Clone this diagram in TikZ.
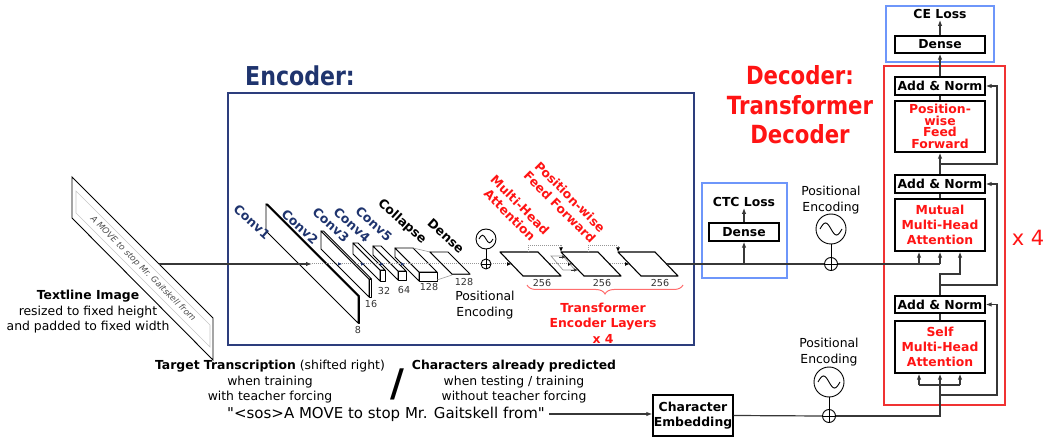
\documentclass[tikz,border=0pt]{standalone}
\usepackage{fontspec}
\setmainfont{DejaVu Sans}
\newfontfamily\titlefont[FakeStretch=0.85]{DejaVu Sans}
\newfontfamily\strfont[Ligatures=TeXOff]{DejaVu Sans}
\usetikzlibrary{arrows.meta,decorations.pathreplacing,calc}
\definecolor{navy}{RGB}{31,52,110}
\definecolor{encbox}{RGB}{45,62,125}
\definecolor{myred}{RGB}{255,20,20}
\definecolor{boxred}{RGB}{240,50,50}
\definecolor{lossblue}{RGB}{110,150,250}
\definecolor{linegray}{RGB}{55,55,55}
\definecolor{dotgray}{RGB}{150,150,150}
\definecolor{bracered}{RGB}{255,110,110}
\tikzset{
  blk/.style={draw=black, line width=1.3pt, fill=white, inner sep=0pt,
    font=\fontsize{12.4}{14}\selectfont\bfseries, minimum width=90pt},
  redtxt/.style={text=myred, font=\fontsize{12.4}{14.5}\selectfont\bfseries, align=center, inner sep=0pt},
  conn/.style={draw=linegray, line width=1.2pt},
  arr/.style={conn, -{Latex[length=6pt,width=4.5pt]}},
  dotl/.style={draw=dotgray, densely dotted, line width=1pt},
  dotarr/.style={dotl, -{Latex[length=4.5pt,width=4pt,color=black]}},
  lbl/.style={font=\fontsize{12.4}{15.5}\selectfont, align=center, inner sep=0pt},
  num/.style={font=\fontsize{9.6}{10}\selectfont, text=black!80, inner sep=0pt},
  convl/.style={font=\fontsize{12.6}{14}\selectfont\bfseries, text=navy, rotate=-42, inner sep=0pt},
  slabface/.style={draw=black, line width=0.9pt, fill=white, line join=round},
  wavec/.style={circle, draw=black, line width=0.9pt, minimum size=30pt, inner sep=0pt},
  plusc/.style={circle, draw=black, line width=0.9pt, minimum size=13pt, inner sep=0pt},
  boldtxt/.style={font=\fontsize{12.4}{14}\selectfont\bfseries, inner sep=1pt},
}
\newcommand\mySlab[5]{%
  \filldraw[slabface] (#1,#2) -- ++(#3,#3) -- ++(0,#4) -- ++(-#3,-#3) -- cycle;
  \filldraw[slabface] (#1,#2) -- ++(#5,0) -- ++(#3,#3) -- ++(-#5,0) -- cycle;
  \filldraw[slabface] (#1+#3,#2+#3) -- ++(#5,0) -- ++(0,#4) -- ++(-#5,0) -- cycle;}
\newcommand\myWave[2]{%
  \draw[line width=0.9pt] ($(#1.center)+(-#2,0)$) sin ++(#2/2,-#2*0.55) cos ++(#2/2,#2*0.55) sin ++(#2/2,#2*0.55) cos ++(#2/2,-#2*0.55);}
\newcommand\myPlus[1]{\draw[line width=0.9pt] (#1.north) -- (#1.south) (#1.east) -- (#1.west);}
\begin{document}
\begin{tikzpicture}[x=1pt,y=-1pt,font=\fontsize{12.4}{14}\selectfont]
\useasboundingbox (0,0) rectangle (1047,438);

% ---------- frames ----------
\node[draw=encbox, line width=1.3pt, minimum width=466pt, minimum height=252pt, inner sep=0pt] (encbox) at (461,219) {};
\node[draw=lossblue, line width=1.4pt, minimum width=85pt, minimum height=95pt, inner sep=0pt] (ctcbox) at (744.5,230.5) {};
\node[draw=lossblue, line width=1.4pt, minimum width=108pt, minimum height=56pt, inner sep=0pt] (cebox) at (940,34) {};
\node[draw=boxred, line width=1.5pt, minimum width=121pt, minimum height=339pt, inner sep=0pt] (decbox) at (944.5,235.5) {};

% ---------- titles ----------
\node[text=navy, font=\titlefont\fontsize{26}{29.5}\selectfont\bfseries] (enct) at (300,76) {Encoder:};
\node[text=myred, align=center, font=\titlefont\fontsize{25}{29.5}\selectfont\bfseries] (dect) at (800,105) {Decoder:\\Transformer\\Decoder};
\node[text=myred, font=\fontsize{21}{24}\selectfont] (x4) at (1028,238) {x 4};

% ---------- textline image ----------
\draw[line width=0.9pt] (72,177) -- (213,318) -- (213,360) -- (72,218) -- cycle;
\draw[gray!45, line width=0.6pt] (76,191) -- (210,325) -- (210,347) -- (76,213) -- cycle;
\node[rotate=-45, font=\fontsize{8.5}{9}\selectfont\itshape, text=black!70] (hw) at (143,269) {A MOVE to stop Mr. Gaitskell from};
\coordinate (imgout) at (159,264);
\node[lbl] (imglbl) at (88,312) {\textbf{Textline Image}\\resized to fixed height\\and padded to fixed width};

% ---------- conv slabs ----------
\mySlab{266}{204}{92}{27}{1.5}
\mySlab{321}{231}{48}{18}{2.5}
\mySlab{353}{243}{27}{11}{5}
\mySlab{373}{246}{25}{9}{8}
\mySlab{395}{248}{24}{9}{18}
\draw[dotgray, line width=0.6pt] (413,248) -- (430,252) (437,280) -- (452,275);
\mySlab{430}{252}{22}{0}{18}

\node[num] (n8) at (358,330) {8};
\node[num] (n16) at (371,304) {16};
\node[num] (n32) at (384,291) {32};
\node[num] (n64) at (404,290) {64};
\node[num] (n128a) at (429,287) {128};
\node[num] (n128b) at (464,282) {128};

\node[convl] (cv1) at (252,222) {Conv1};
\node[convl] (cv2) at (300,227) {Conv2};
\node[convl] (cv3) at (331,225) {Conv3};
\node[convl] (cv4) at (352,225) {Conv4};
\node[convl] (cv5) at (374,224) {Conv5};
\node[convl, text=black] (coll) at (402,222) {Collapse};
\node[convl, text=black] (dns) at (446,236) {Dense};

% ---------- encoder positional encoding ----------
\node[wavec, minimum size=20pt] (encpe) at (486,239) {};
\myWave{encpe}{7}
\node[plusc, minimum size=10pt] (encplus) at (486,264) {};
\myPlus{encplus}
\draw[line width=0.9pt] (encpe.south) -- (encplus.north);
\node[lbl] (encpet) at (485,305) {Positional\\Encoding};

% ---------- transformer encoder planes ----------
\filldraw[slabface, line width=1.1pt] (500,252) -- (538,252) -- (561,276) -- (523,276) -- cycle;
\filldraw[slabface, line width=1.1pt] (561,252) -- (598,252) -- (621,276) -- (584,276) -- cycle;
\filldraw[slabface, line width=1.1pt] (618,252) -- (655,252) -- (678,276) -- (641,276) -- cycle;
\coordinate (Ain) at (511.5,264);  \coordinate (Aout) at (549.5,264);
\coordinate (Bin) at (572.5,264);  \coordinate (Bout) at (609.5,264);
\coordinate (Cin) at (629.5,264);  \coordinate (Cout) at (666.5,264);
\node[num] (n256a) at (542,283) {256};
\node[num] (n256b) at (602,283) {256};
\node[num] (n256c) at (660,283) {256};

\node[redtxt, rotate=-45] (mha) at (515,210) {Multi-Head\\Attention};
\node[redtxt, rotate=-45] (pwff) at (565,202) {Position-wise\\Feed Forward};

\draw[bracered, line width=1pt, decorate, decoration={brace, mirror, amplitude=9pt}] (527,285) -- (683,285);
\node[redtxt, font=\fontsize{12.4}{15.5}\selectfont\bfseries] (enclayers) at (603,323) {Transformer\\Encoder Layers\\x 4};

% ---------- encoder flow ----------
\coordinate (c1in) at (312,264);
\draw[dotl] (c1in) -- (encplus.west);
\draw[arr] (imgout) -- (c1in);
\foreach \xx in {342,365,384,405} {
  \draw[navy, line width=0.6pt, -{Latex[length=4pt,width=3.5pt]}] (\xx-4,264) -- (\xx,264);
}
\draw[dotarr] (encplus.east) -- (Ain);
\draw[dotarr] (Aout) -- (Bin);
\draw[dotarr] (Bout) -- (Cin);
\draw[dotarr] (528,252) -- (528,246) -- (561,246) -- (561,252);
\draw[dotarr] (588,252) -- (588,246) -- (618,246) -- (618,252);
\draw[dotgray, line width=0.7pt] (551,256) -- (563,256) -- (575,270) -- (563,270) -- cycle;
\draw[linegray, line width=0.6pt, -{Latex[length=4pt,width=3.5pt]}] (559,257) -- (566,257);
\draw[linegray, line width=0.6pt, -{Latex[length=4pt,width=3.5pt]}] (571,270) -- (578,270);

% ---------- CTC ----------
\node[boldtxt] (ctct) at (744,202) {CTC Loss};
\node[blk, minimum width=70pt, minimum height=18pt] (ctcd) at (744,232) {Dense};
\coordinate (ctcj) at (744,264);
\draw[arr] (ctcj) -- (ctcd.south);
\draw[arr] (ctcd.north) -- (ctct.south);

% ---------- decoder positional encodings ----------
\node[lbl] (pe1t) at (831,200) {Positional\\Encoding};
\node[wavec] (pe1) at (831,229) {};
\myWave{pe1}{11}
\node[plusc] (pe1plus) at (831,264) {};
\myPlus{pe1plus}
\draw[line width=0.9pt] (pe1.south) -- (pe1plus.north);

\node[lbl] (pe2t) at (829,352) {Positional\\Encoding};
\node[wavec] (pe2) at (829,382) {};
\myWave{pe2}{11}
\node[plusc] (pe2plus) at (829,416) {};
\myPlus{pe2plus}
\draw[line width=0.9pt] (pe2.south) -- (pe2plus.north);

% ---------- decoder blocks ----------
\node[boldtxt] (celoss) at (940,14) {CE Loss};
\node[blk, minimum height=17pt] (dense2) at (940,44.5) {Dense};
\node[blk, minimum height=18pt] (an1) at (940,86) {Add \& Norm};
\node[blk, minimum height=51pt, text=myred, align=center, font=\fontsize{12.4}{11.7}\selectfont\bfseries] (ff) at (940,126.5) {Position-\\wise\\Feed\\Forward};
\node[blk, minimum height=18pt] (an2) at (940,184) {Add \& Norm};
\node[blk, minimum height=52pt, text=myred, align=center, font=\fontsize{12.4}{15}\selectfont\bfseries] (mut) at (940,225) {Mutual\\Multi-Head\\Attention};
\node[blk, minimum height=17pt] (an3) at (940,304.5) {Add \& Norm};
\node[blk, minimum height=52pt, text=myred, align=center, font=\fontsize{12.4}{15}\selectfont\bfseries] (self) at (940,347) {Self\\Multi-Head\\Attention};

% ---------- bottom texts ----------
\node[lbl] (tgt) at (270,382) {\textbf{Target Transcription} (shifted right)\\when training\\with teacher forcing};
\node[font=\fontsize{38}{38}\selectfont\bfseries, inner sep=0pt] (slash) at (397,384) {/};
\node[lbl] (chars) at (514,382) {\textbf{Characters already predicted}\\when testing / training\\without teacher forcing};
\node[font=\strfont\fontsize{15}{16}\selectfont, inner sep=1pt] (str) at (386,414) {"<sos>A MOVE to stop Mr. Gaitskell from"};
\node[blk, minimum width=80pt, minimum height=41pt, align=center, font=\fontsize{12.4}{14.5}\selectfont\bfseries] (charemb) at (693,415.5) {Character\\Embedding};

% ---------- connectors ----------
\draw[arr] ($(str.east)+(3,0)$) -- (str.east -| charemb.west);
\draw[conn] (Cout) -- (pe1plus.west);
\coordinate (mj1) at (919,264);
\coordinate (mj2) at (940,264);
\draw[conn] (pe1plus.east) -- (mj2);
\draw[arr] (mj1) -- (mut.south -| mj1);
\draw[arr] (mj2) -- (mut.south -| mj2);

\draw[arr] (an1.north) -- (dense2.south);
\draw[arr] (dense2.north) -- (celoss.south);
\draw[conn] (ff.north) -- (an1.south);
\draw[arr] (an2.north) -- (ff.south);
\coordinate (r1a) at (940,164); \coordinate (r1b) at (997,164);
\draw[arr] (r1a) -- (r1b) |- (an1.east);
\draw[conn] (mut.north) -- (an2.south);
\coordinate (t1) at (940,274); \coordinate (t2) at (960,274);
\draw[arr] (an3.north) -- (t1) -- (t2) -- (mut.south -| t2);
\coordinate (r2a) at (940,285); \coordinate (r2b) at (997,285);
\draw[arr] (r2a) -- (r2b) |- (an2.east);
\draw[conn] (self.north) -- (an3.south);

\draw[conn] (charemb.east) -- (pe2plus.west);
\coordinate (b1) at (940,416);
\draw[arr] (pe2plus.east) -- (b1) -- (self.south);
\coordinate (br1) at (919,385); \coordinate (br2) at (960,385);
\draw[conn] (br1) -- (br2);
\draw[arr] (br1) -- (self.south -| br1);
\draw[arr] (br2) -- (self.south -| br2);
\coordinate (r3a) at (940,395); \coordinate (r3b) at (997,395);
\draw[arr] (r3a) -- (r3b) |- (an3.east);
\end{tikzpicture}
\end{document}
